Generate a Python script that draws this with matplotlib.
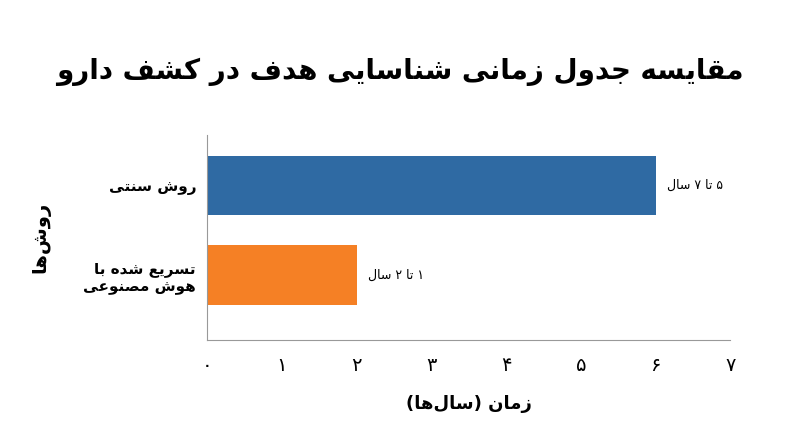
import matplotlib
matplotlib.use("Agg")
import matplotlib.pyplot as plt

FORMS = {
    '\u0627': ('\uFE8D', '\uFE8E', None, None),
    '\u0628': ('\uFE8F', '\uFE90', '\uFE91', '\uFE92'),
    '\u062A': ('\uFE95', '\uFE96', '\uFE97', '\uFE98'),
    '\u062C': ('\uFE9D', '\uFE9E', '\uFE9F', '\uFEA0'),
    '\u062F': ('\uFEA9', '\uFEAA', None, None),
    '\u0631': ('\uFEAD', '\uFEAE', None, None),
    '\u0632': ('\uFEAF', '\uFEB0', None, None),
    '\u0633': ('\uFEB1', '\uFEB2', '\uFEB3', '\uFEB4'),
    '\u0634': ('\uFEB5', '\uFEB6', '\uFEB7', '\uFEB8'),
    '\u0635': ('\uFEB9', '\uFEBA', '\uFEBB', '\uFEBC'),
    '\u0639': ('\uFEC9', '\uFECA', '\uFECB', '\uFECC'),
    '\u0641': ('\uFED1', '\uFED2', '\uFED3', '\uFED4'),
    '\u0642': ('\uFED5', '\uFED6', '\uFED7', '\uFED8'),
    '\u0644': ('\uFEDD', '\uFEDE', '\uFEDF', '\uFEE0'),
    '\u0645': ('\uFEE1', '\uFEE2', '\uFEE3', '\uFEE4'),
    '\u0646': ('\uFEE5', '\uFEE6', '\uFEE7', '\uFEE8'),
    '\u0647': ('\uFEE9', '\uFEEA', '\uFEEB', '\uFEEC'),
    '\u0648': ('\uFEED', '\uFEEE', None, None),
    '\u06A9': ('\uFB8E', '\uFB8F', '\uFB90', '\uFB91'),
    '\u06CC': ('\uFBFC', '\uFBFD', '\uFBFE', '\uFBFF'),
}
MIRROR = {'(': ')', ')': '('}


def shape_line(s):
    out = []
    n = len(s)
    for i, c in enumerate(s):
        if c not in FORMS:
            out.append(c)
            continue
        iso, fin, ini, med = FORMS[c]
        prev = s[i - 1] if i > 0 else ''
        nxt = s[i + 1] if i + 1 < n else ''
        jp = prev in FORMS and FORMS[prev][2] is not None
        jn = nxt in FORMS and ini is not None
        if jp and jn:
            out.append(med)
        elif jp:
            out.append(fin)
        elif jn:
            out.append(ini)
        else:
            out.append(iso)
    res = ''.join(out).replace('\u200c', '')
    return ''.join(MIRROR.get(ch, ch) for ch in reversed(res))


def fa(s):
    return '\n'.join(shape_line(l) for l in s.split('\n'))


title = "مقایسه جدول زمانی شناسایی هدف در کشف دارو"
xlabel = "زمان (سال\u200cها)"
ylabel = "روش\u200cها"
categories = ["روش سنتی", "تسریع شده با\nهوش مصنوعی"]
values = [6, 2]
bar_labels = ["۵ تا ۷ سال", "۱ تا ۲ سال"]
colors = ["#2f6aa3", "#f58025"]
xticks = [0, 1, 2, 3, 4, 5, 6, 7]
xtick_labels = ["۰", "۱", "۲", "۳", "۴", "۵", "۶", "۷"]

plt.rcParams['font.family'] = ['DejaVu Sans']
fig = plt.figure(figsize=(8, 4.47), dpi=100)
ax = fig.add_axes([0.259, 0.24, 0.654, 0.458])
ypos = [1, 0]
ax.barh(ypos, values, height=0.66, color=colors)
for y, v, lab in zip(ypos, values, bar_labels):
    ax.text(v + 0.15, y, fa(lab), va='center', ha='left', fontsize=9)
ax.set_xlim(0, 7)
ax.set_ylim(-0.72, 1.56)
ax.set_yticks(ypos)
ax.set_yticklabels([fa(c) for c in categories], fontsize=11, fontweight='bold', ha='right')
ax.tick_params(axis='y', pad=8)
ax.set_xticks(xticks)
ax.set_xticklabels(xtick_labels, fontsize=14)
ax.tick_params(axis='both', length=0)
ax.tick_params(axis='x', pad=12)
for s in ['top', 'right']:
    ax.spines[s].set_visible(False)
for s in ['left', 'bottom']:
    ax.spines[s].set_color('#999999')
ax.set_xlabel(fa(xlabel), fontsize=13, fontweight='bold', labelpad=14)
ax.set_ylabel(fa(ylabel), fontsize=14, fontweight='bold', labelpad=24)
fig.text(0.5, 0.84, fa(title), ha='center', va='center', fontsize=20, fontweight='bold')
fig.savefig("out.png", dpi=100)
